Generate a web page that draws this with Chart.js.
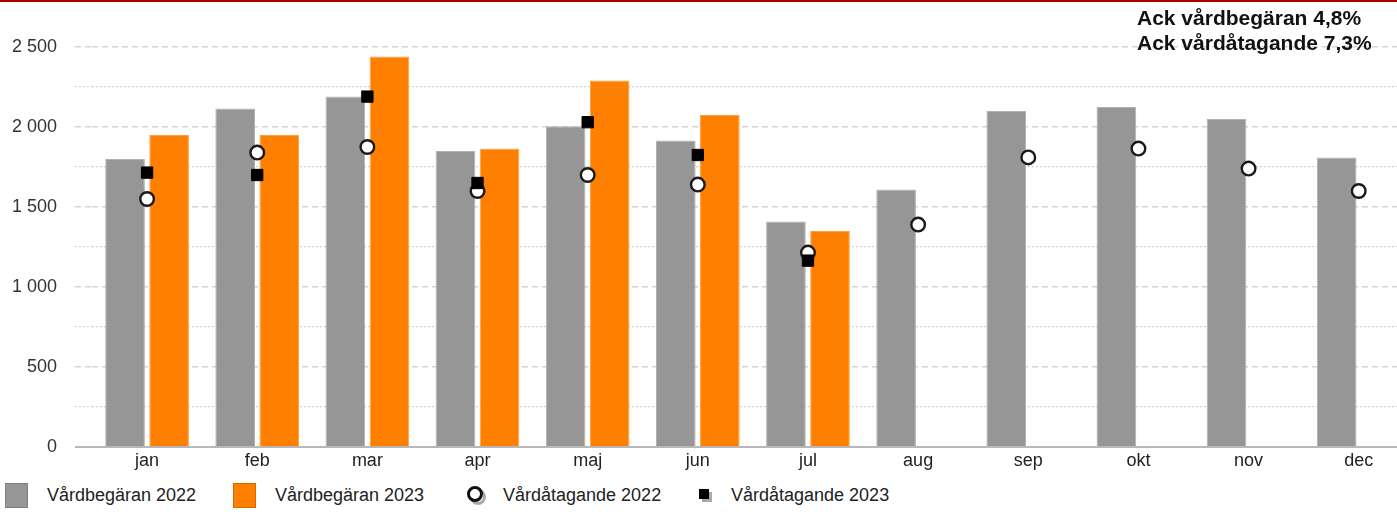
<!DOCTYPE html>
<html lang="sv">
<head>
    <meta charset="UTF-8">
    <title>Vårdbegäran och vårdåtagande</title>
    <style>
        body {
            margin: 0;
            width: 1397px;
            height: 514px;
            overflow: hidden;
            background: #fff;
            font-family: Arial, "Liberation Sans", sans-serif;
            color: #222;
        }
        #topline {
            position: absolute;
            left: 0; top: 0;
            width: 1397px; height: 2px;
            background: #a80000;
        }
        #wrap {
            position: absolute;
            left: 0; top: 0;
            width: 1423px; height: 477px;
        }
        #note {
            position: absolute;
            left: 1137px; top: 5px;
            font-weight: bold;
            font-size: 21px;
            line-height: 25px;
            color: #111;
            white-space: nowrap;
        }
        .leg {
            position: absolute;
            top: 484px;
            font-size: 18px;
            line-height: 22px;
            color: #222;
            white-space: nowrap;
        }
        .box {
            position: absolute;
            top: 483px;
            width: 23px; height: 25px;
            box-sizing: border-box;
        }
        .ring, .ring-shadow {
            position: absolute;
            width: 16px; height: 16px;
            border-radius: 50%;
            box-sizing: border-box;
        }
        .ring { border: 3.5px solid #111; background: #fff; left: 467px; top: 486px; }
        .ring-shadow { border: 3.5px solid #aaa; left: 470px; top: 489px; }
        .sq { position: absolute; width: 10px; height: 10px; }
    </style>
    <script src="https://cdn.jsdelivr.net/npm/chart.js"></script>
</head>
<body>
    <div id="topline"></div>
    <div id="wrap"><canvas id="chart"></canvas></div>
    <div id="note"></div>

    <div class="box" style="left:5px; background:#969696; border:1px solid #808080;"></div>
    <div class="leg" id="leg0" style="left:47px;"></div>
    <div class="box" style="left:233px; background:#ff8000; border:1px solid #d06a00;"></div>
    <div class="leg" id="leg1" style="left:275px;"></div>
    <div class="ring-shadow"></div>
    <div class="ring"></div>
    <div class="leg" id="leg2" style="left:503px;"></div>
    <div class="sq" style="left:702px; top:492px; background:#aaa;"></div>
    <div class="sq" style="left:699px; top:489px; background:#000;"></div>
    <div class="leg" id="leg3" style="left:731px;"></div>

    <script>
        // Data
        const months = ['jan', 'feb', 'mar', 'apr', 'maj', 'jun', 'jul', 'aug', 'sep', 'okt', 'nov', 'dec'];
        const begaran2022 = [1800, 2115, 2190, 1850, 2005, 1915, 1410, 1610, 2100, 2125, 2050, 1810];
        const begaran2023 = [1950, 1950, 2440, 1865, 2290, 2075, 1350, null, null, null, null, null];
        const atagande2022 = [1550, 1840, 1875, 1600, 1700, 1640, 1215, 1390, 1810, 1865, 1740, 1600];
        const atagande2023 = [1715, 1700, 2190, 1650, 2030, 1825, 1165, null, null, null, null, null];
        const seriesNames = ['Vårdbegäran 2022', 'Vårdbegäran 2023', 'Vårdåtagande 2022', 'Vårdåtagande 2023'];
        const noteLines = ['Ack vårdbegäran 4,8%', 'Ack vårdåtagande 7,3%'];
        const yMax = 2500;
        const yStep = 250;   // minor grid step, labels every 500

        document.getElementById('note').innerHTML = noteLines.join('<br>');
        seriesNames.forEach((n, i) => { document.getElementById('leg' + i).textContent = n; });

        const fmt = v => String(v).replace(/\B(?=(\d{3})+(?!\d))/g, ' ');
        const isMajor = ctx => ctx.tick && ctx.tick.value % 500 === 0;
        const gridDash = ctx => {
            if (!ctx.tick) return [];
            if (ctx.tick.value === 0) return [];
            return isMajor(ctx) ? [6, 4] : [2, 2];
        };

        const ctx = document.getElementById('chart').getContext('2d');
        new Chart(ctx, {
            data: {
                labels: months,
                datasets: [
                    {
                        type: 'line', label: seriesNames[3], data: atagande2023, order: 1,
                        showLine: false, pointStyle: 'rect', pointRadius: 8,
                        pointBackgroundColor: '#000', pointBorderColor: '#000', pointBorderWidth: 1
                    },
                    {
                        type: 'line', label: seriesNames[2], data: atagande2022, order: 2,
                        showLine: false, pointStyle: 'circle', pointRadius: 6.8,
                        pointBackgroundColor: '#fff', pointBorderColor: '#1a1a1a', pointBorderWidth: 2.4
                    },
                    {
                        type: 'bar', label: seriesNames[0], data: begaran2022, order: 3,
                        backgroundColor: '#969696', borderColor: '#b0b0b0', borderWidth: 1,
                        categoryPercentage: 0.8, barPercentage: 0.9
                    },
                    {
                        type: 'bar', label: seriesNames[1], data: begaran2023, order: 3,
                        backgroundColor: '#ff8000', borderColor: '#ffa040', borderWidth: 1,
                        categoryPercentage: 0.8, barPercentage: 0.9
                    }
                ]
            },
            options: {
                responsive: true,
                maintainAspectRatio: false,
                animation: false,
                layout: { padding: { left: 10, top: 47, right: 0, bottom: 0 } },
                plugins: { legend: { display: false }, tooltip: { enabled: false } },
                scales: {
                    x: {
                        grid: { display: false, drawTicks: false },
                        border: { display: true, color: '#b8b8b8', width: 2 },
                        ticks: { color: '#222', font: { size: 18, family: 'Arial' }, padding: 3 },
                        afterFit: s => { s.height = 30; }
                    },
                    y: {
                        min: 0, max: yMax,
                        afterFit: s => { s.width = 82; },
                        ticks: {
                            stepSize: yStep,
                            color: '#333',
                            padding: 18,
                            font: { size: 18, family: 'Arial' },
                            callback: v => (v % 500 === 0 ? fmt(v) : '')
                        },
                        border: { display: false, dash: gridDash },
                        grid: {
                            color: c => (c.tick && c.tick.value === 0 ? '#b8b8b8' : (isMajor(c) ? '#d4d4d4' : '#d0d0d0')),
                            lineWidth: c => (c.tick && c.tick.value === 0 ? 2 : (isMajor(c) ? 1.5 : 1.2)),
                            tickLength: 17,
                            tickColor: c => (c.tick && c.tick.value === 0 ? '#b8b8b8' : '#d4d4d4'),
                            tickBorderDash: gridDash
                        }
                    }
                }
            }
        });
    </script>
</body>
</html>
